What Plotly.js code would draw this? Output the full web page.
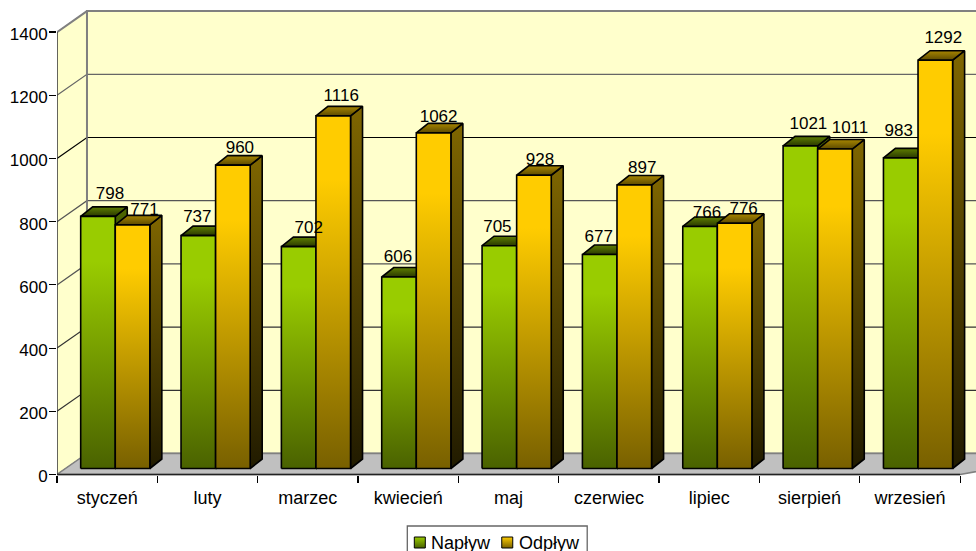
<!DOCTYPE html>
<html><head><meta charset="utf-8">
<script src="https://cdn.plot.ly/plotly-3.0.1.min.js"></script>
<style>html,body{margin:0;padding:0;background:#fff;overflow:hidden}#c{width:976px;height:551px}</style>
</head><body><div id="c"></div>
<script>
const months = ['styczeń','luty','marzec','kwiecień','maj','czerwiec','lipiec','sierpień','wrzesień'];
const naplyw = [798,737,702,606,705,677,766,1021,983];
const odplyw = [771,960,1116,1062,928,897,776,1011,1292];
const yTicks = [0,200,400,600,800,1000,1200,1400];
// label nudges (px, relative to front-top centre of the bar)
const naplywLabelDx = [12,-1,10,-1,-2,-1,7,8,-2];
const naplywLabelDy = [22,18,18,19,18,17,13,21,26];
const odplywLabelDx = [12,7,8,5,6,8,9,15,8];
const odplywLabelDy = [14,16,19,15,15,16,14,20,21];

const W=976,H=551,mL=56.5,mT=5,y0Px=474.5;
const pxY=0.316, pxX=100.4;
const xMax=(W-mL)/pxX, yMax=(y0Px-mT)/pxY, yMin=(y0Px-H)/pxY;
const px2x=p=>p/pxX, px2y=p=>p/pxY;
const wallDx=px2x(30), wallDy=px2y(21);
const baseX=px2x(23.7), barW=px2x(34.6), baseY=px2y(6);
const depthX=px2x(12), depthY=px2y(9.5);

const traces=[];
const poly=(x,y,fill,grad,line,lw)=>{const t={type:'scatter',mode:'lines',x:x.concat(x[0]),y:y.concat(y[0]),fill:'toself',
  line:{color:line||'#000',width:lw===undefined?1.6:lw},hoverinfo:'skip',showlegend:false,cliponaxis:false};
  if(grad) t.fillgradient={type:'vertical',colorscale:grad}; else t.fillcolor=fill; return t;};
const seg=(x,y,c,w)=>({type:'scatter',mode:'lines',x,y,line:{color:c,width:w},hoverinfo:'skip',showlegend:false,cliponaxis:false});

traces.push(poly([0,wallDx,wallDx,0],[0,wallDy,1400+wallDy,1400],'#FFFFCC',null,'#808080',1));
traces.push(poly([wallDx,xMax+1,xMax+1,wallDx],[wallDy,wallDy,1400+wallDy,1400+wallDy],'#FFFFCC',null,'#808080',2));
traces.push(poly([0,wallDx,xMax+1,9],[0,wallDy,wallDy,0],'#C0C0C0',null,'#808080',1.5));
const gridCol={200:'#333',400:'#333',600:'#555',800:'#555',1000:'#000',1200:'#666'};
yTicks.slice(1,-1).forEach(v=>traces.push(seg([0,wallDx,xMax+1],[v,v+wallDy,v+wallDy],gridCol[v],1.2)));
traces.push(seg([0,wallDx,xMax+1],[1400,1400+wallDy,1400+wallDy],'#808080',2));
traces.push(seg([wallDx,wallDx],[wallDy,1400+wallDy],'#808080',1.5));
traces.push(seg([0,0],[0,1400],'#333',1.3));
traces.push(seg([0,9],[0,0],'#222',1.5));

// colorscales run from the bottom of a face (0) to its top (1)
const colors={
 g:{front:[[0,'#4A6200'],[0.82,'#99CC00'],[1,'#99CC00']],side:[[0,'#1A2200'],[1,'#4D6600']],top:[[0,'#2A3800'],[1,'#5F7F00']]},
 o:{front:[[0,'#786000'],[0.82,'#FFCC00'],[1,'#FFCC00']],side:[[0,'#211B00'],[1,'#7F6600']],top:[[0,'#5C4A00'],[1,'#A88600']]}
};
const bar=(i,s,v,c)=>{
  const x0=i+baseX+s*barW,x1=x0+barW,b=baseY,t=v+baseY;
  traces.push(poly([x1,x1+depthX,x1+depthX,x1],[t,t+depthY,b+depthY,b],null,c.side));
  traces.push(poly([x0,x0+depthX,x1+depthX,x1],[t,t+depthY,t+depthY,t],null,c.top));
  traces.push(poly([x0,x1,x1,x0],[b,b,t,t],null,c.front));
};
months.forEach((m,i)=>{bar(i,0,naplyw[i],colors.g);bar(i,1,odplyw[i],colors.o);});

const lab=(vals,s,dx,dy)=>({type:'scatter',mode:'text',cliponaxis:false,hoverinfo:'skip',showlegend:false,
  x:vals.map((v,i)=>i+baseX+(s+0.5)*barW+px2x(dx[i])),y:vals.map((v,i)=>v+baseY+px2y(dy[i])),
  text:vals.map(String),textposition:'middle center',textfont:{family:'Liberation Sans',size:17,color:'#000'}});
traces.push(lab(naplyw,0,naplywLabelDx,naplywLabelDy));
traces.push(lab(odplyw,1,odplywLabelDx,odplywLabelDy));

// legend drawn in pixel terms so the tight spacing of the original is kept
const toX=p=>(p-mL)/pxX, toY=p=>(y0Px-p)/pxY;
const legendNames=['Napływ','Odpływ'];
const legendSwatchPx=[419.5,507];
const legendTextPx=[431,518];
const legendGrad=[['#99CC00','#4A6200'],['#FFCC00','#7A6200']];
legendNames.forEach((n,i)=>traces.push({type:'scatter',mode:'markers',name:n,x:[toX(legendSwatchPx[i])],y:[toY(542.5)],cliponaxis:false,showlegend:false,
  marker:{symbol:'square',size:11,color:legendGrad[i][0],gradient:{type:'vertical',color:legendGrad[i][1]},line:{color:'#000',width:1}},hoverinfo:'skip'}));

const layout={width:W,height:H,margin:{l:mL,r:0,t:mT,b:0,pad:0,autoexpand:false},paper_bgcolor:'#fff',plot_bgcolor:'#fff',
 font:{family:'Liberation Sans',size:17,color:'#000'},
 xaxis:{range:[0,xMax],anchor:'free',position:(H-y0Px)/(H-mT),showgrid:false,zeroline:false,showline:false,tickmode:'array',
   tickvals:months.map((m,i)=>i+0.5),ticktext:months,ticks:'outside',ticklen:7,tickcolor:'rgba(0,0,0,0)',tickangle:0,tickfont:{family:'Liberation Sans',size:18,color:'#000'},
   minor:{tickmode:'array',tickvals:[0,1,2,3,4,5,6,7,8,9],ticks:'outside',ticklen:7,tickcolor:'#000',tickwidth:1.2,showgrid:false}},
 yaxis:{range:[yMin,yMax],showgrid:false,zeroline:false,showline:false,tickmode:'array',tickvals:yTicks,ticks:'outside',ticklen:7,tickcolor:'#000',tickwidth:1.2,ticklabelstandoff:-2,ticklabelshift:2},
 showlegend:false,
 shapes:[{type:'rect',xref:'x',yref:'y',x0:toX(407),x1:toX(587),y0:toY(526),y1:toY(560),line:{color:'#666',width:1.3},fillcolor:'#fff',layer:'below'}],
 annotations:legendNames.map((n,i)=>({xref:'x',yref:'y',x:toX(legendTextPx[i]),y:toY(542.5),text:n,showarrow:false,xanchor:'left',yanchor:'middle',align:'left',xshift:i?-1:-2,
   font:{family:'Liberation Sans',size:18,color:'#000'}}))
};
Plotly.newPlot('c',traces,layout,{displayModeBar:false,staticPlot:true});
</script></body></html>
